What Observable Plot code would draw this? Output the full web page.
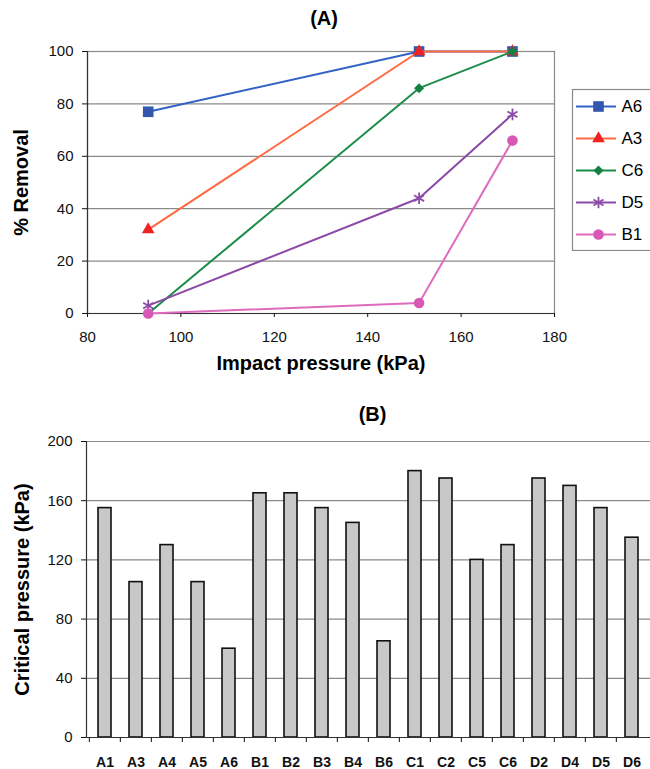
<!DOCTYPE html>
<html><head><meta charset="utf-8">
<script src="https://cdn.jsdelivr.net/npm/d3@7"></script>
<script src="https://cdn.jsdelivr.net/npm/@observablehq/plot@0.6"></script>
<style>
html,body{margin:0;padding:0;background:#fff;}
#root{position:relative;width:650px;height:769px;overflow:hidden;font-family:"Liberation Sans",Arial,sans-serif;}
#root svg{position:absolute;}
</style></head><body><div id="root"></div>
<script>
// ---------- Panel A data ----------
const pressures = [93, 151, 171];
const seriesNames = ["A6", "A3", "C6", "D5", "B1"];
const removalA6 = [77, 100, 100];
const removalA3 = [32, 100, 100];
const removalC6 = [0, 86, 100];
const removalD5 = [3, 44, 76];
const removalB1 = [0, 4, 66];
const xTicksA = [80, 100, 120, 140, 160, 180];
const yTicksA = [0, 20, 40, 60, 80, 100];

// ---------- Panel B data ----------
const samples = ["A1","A3","A4","A5","A6","B1","B2","B3","B4","B6","C1","C2","C5","C6","D2","D4","D5","D6"];
const criticalPressure = [155,105,130,105,60,165,165,155,145,65,180,175,120,130,175,170,155,135];
const yTicksB = [0, 40, 80, 120, 160, 200];

// ---------- styling ----------
const lineColors = ["#3262c4", "#ff6a42", "#1c8c4a", "#8c4aa8", "#de6cbe"];
const markerColors = ["#3356b0", "#ee2222", "#168042", "#8c4aa8", "#d858b6"];
const markerSymbols = ["square", "triangle", "diamond2", "asterisk", "circle"];
const markerR = [6, 4.7, 4.5, 5.5, 5.3];
const FONT = "Liberation Sans, Arial, sans-serif";
const GRID = "#8a8a8a";
const AXIS = "#333";

const removal = [removalA6, removalA3, removalC6, removalD5, removalB1];
const rowsA = seriesNames.flatMap((s, k) => pressures.map((p, i) => ({series: s, k, pressure: p, value: removal[k][i]})));

const root = document.getElementById("root");

// ---------- Panel A ----------
const seriesMarks = [];
seriesNames.forEach((s, k) => {
  const d = rowsA.filter(r => r.series === s);
  seriesMarks.push(Plot.line(d, {x: "pressure", y: "value", stroke: lineColors[k], strokeWidth: 2}));
  const isStroke = markerSymbols[k] === "asterisk";
  seriesMarks.push(Plot.dot(d, {
    x: "pressure", y: "value", symbol: markerSymbols[k], r: markerR[k],
    fill: isStroke ? "none" : markerColors[k],
    stroke: isStroke ? markerColors[k] : "none",
    strokeWidth: isStroke ? 1.8 : 0
  }));
});

const titleStyle = {fontSize: 20, fontWeight: "bold", fill: "#000", lineAnchor: "middle", textAnchor: "middle"};

const chartA = Plot.plot({
  width: 650, height: 380,
  marginLeft: 87, marginRight: 96, marginTop: 51, marginBottom: 67,
  style: {fontFamily: FONT, fontSize: "15px", color: "#111", background: "transparent"},
  x: {domain: [80, 180]},
  y: {domain: [0, 100]},
  marks: [
    Plot.gridY(yTicksA, {stroke: GRID, strokeOpacity: 1, strokeWidth: 1.2}),
    Plot.frame({stroke: GRID, strokeWidth: 1.2}),
    Plot.ruleY([0], {stroke: AXIS, strokeWidth: 1.2}),
    Plot.ruleX([80], {stroke: AXIS, strokeWidth: 1.2}),
    Plot.axisY({ticks: yTicksA, tickSize: 5, tickPadding: 9, fontSize: 15, label: null}),
    Plot.axisX({ticks: xTicksA, tickSize: 4, tickPadding: 14, fontSize: 15, label: null}),
    ...seriesMarks,
    Plot.text(["(A)"], {frameAnchor: "top", dy: -33, dx: 3, ...titleStyle}),
    Plot.text(["Impact pressure (kPa)"], {frameAnchor: "bottom", dy: 50, ...titleStyle}),
    Plot.text(["% Removal"], {frameAnchor: "left", dx: -66, rotate: -90, ...titleStyle})
  ]
});
chartA.style.left = "0px"; chartA.style.top = "0px";
root.appendChild(chartA);

// ---------- Legend for A ----------
const legendMarks = [Plot.frame({stroke: "#888", strokeWidth: 1.2})];
seriesNames.forEach((s, k) => {
  legendMarks.push(Plot.ruleY([s], {y: d => d, x1: 4, x2: 44, stroke: lineColors[k], strokeWidth: 2}));
  const isStroke = markerSymbols[k] === "asterisk";
  legendMarks.push(Plot.dot([s], {
    y: d => d, x: 26, symbol: markerSymbols[k], r: markerR[k],
    fill: isStroke ? "none" : markerColors[k],
    stroke: isStroke ? markerColors[k] : "none",
    strokeWidth: isStroke ? 1.8 : 0
  }));
});
legendMarks.push(Plot.text(seriesNames, {y: d => d, x: 49, text: d => d, textAnchor: "start", fontSize: 17, fill: "#000"}));
const legend = Plot.plot({
  width: 90, height: 163,
  marginLeft: 1, marginRight: 0, marginTop: 1, marginBottom: 1,
  style: {fontFamily: FONT, background: "white"},
  x: {domain: [0, 89], range: [1, 90], axis: null},
  y: {type: "band", domain: seriesNames, range: [2, 162], padding: 0, axis: null},
  marks: legendMarks
});
legend.style.left = "571px"; legend.style.top = "88px";
root.appendChild(legend);

// ---------- Panel B ----------
const rowsB = samples.map((s, i) => ({sample: s, value: criticalPressure[i]}));
const bLeft = 86, bRight = 0, bWidth = 650;
const step = (bWidth - bLeft - bRight) / samples.length;

const chartB = Plot.plot({
  width: bWidth, height: 389,
  marginLeft: bLeft, marginRight: bRight, marginTop: 61, marginBottom: 32,
  style: {fontFamily: FONT, fontSize: "15px", color: "#111", background: "transparent"},
  x: {type: "band", domain: samples, paddingInner: 0.57, paddingOuter: 0.285},
  y: {domain: [0, 200]},
  marks: [
    Plot.gridY(yTicksB, {stroke: GRID, strokeOpacity: 1, strokeWidth: 1.2}),
    Plot.barY(rowsB, {x: "sample", y: "value", fill: "#c8c8c8", stroke: "#111", strokeWidth: 1.6}),
    Plot.ruleY([0], {stroke: AXIS, strokeWidth: 1.2}),
    Plot.frame({anchor: "left", stroke: AXIS, strokeWidth: 1.2}),
    Plot.axisY({ticks: yTicksB, tickSize: 5, tickPadding: 9, fontSize: 15, label: null}),
    Plot.axisX({tickSize: 5, tickFormat: () => "", dx: -step / 2, label: null}),
    Plot.axisX({tickSize: 0, tickPadding: 20, fontSize: 14, fontWeight: "bold", label: null}),
    Plot.text(["(B)"], {frameAnchor: "top", dy: -27, dx: 4, ...titleStyle}),
    Plot.text(["Critical pressure (kPa)"], {frameAnchor: "left", dx: -64, rotate: -90, ...titleStyle})
  ]
});
chartB.style.left = "0px"; chartB.style.top = "380px";
root.appendChild(chartB);
</script>
</body></html>
